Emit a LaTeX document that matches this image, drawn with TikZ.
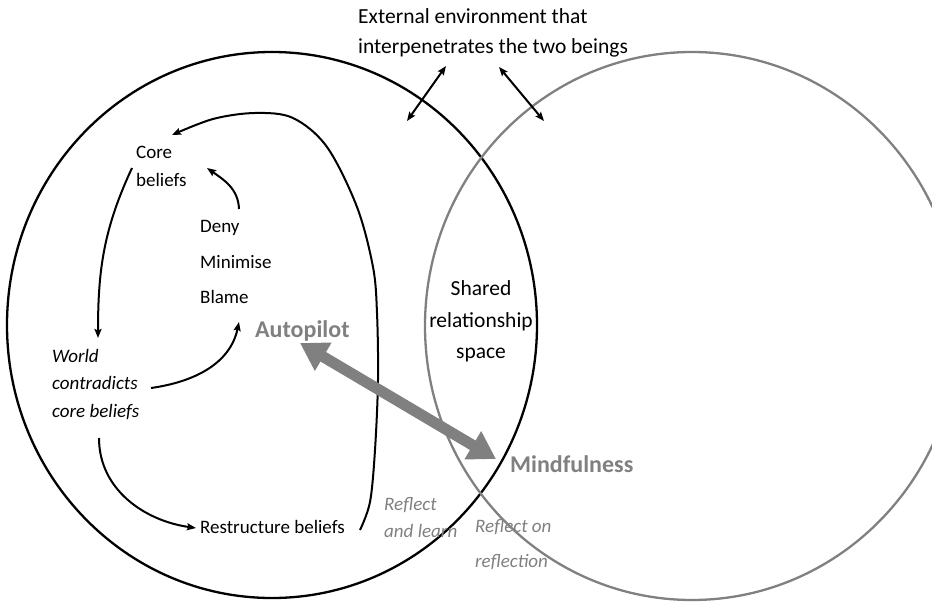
\documentclass[tikz,border=0pt]{standalone}
\usepackage{fontspec}
\setmainfont{Carlito}
\usetikzlibrary{arrows.meta}
\definecolor{mgray}{RGB}{128,128,128}
\begin{document}
\begin{tikzpicture}[x=1pt,y=-1pt,
  txt/.style={anchor=base west, inner sep=0pt, font=\fontsize{19}{22}\selectfont},
  itxt/.style={txt, font=\fontsize{19}{22}\selectfont\itshape},
  gitxt/.style={itxt, text=mgray},
  bigtxt/.style={anchor=base west, inner sep=0pt, font=\fontsize{24}{28}\selectfont\bfseries, text=mgray},
  toptxt/.style={anchor=base west, inner sep=0pt, font=\fontsize{21.5}{25}\selectfont},
  midtxt/.style={anchor=base, inner sep=0pt, font=\fontsize{21.5}{25}\selectfont},
  arr/.style={line width=2pt, -{Stealth[length=9pt,width=7pt,inset=1.5pt]}},
  darr/.style={line width=2pt, {Stealth[length=9pt,width=7pt,inset=1.5pt]}-{Stealth[length=9pt,width=7pt,inset=1.5pt]}},
  bigarr/.style={mgray, line width=11pt, {Triangle[length=27pt,width=31pt]}-{Triangle[length=27pt,width=31pt]}},
  ring/.style={line width=2.3pt}
]
\useasboundingbox (0,0) rectangle (932,602);

% circles
\draw[ring] (272,325) ellipse [x radius=265, y radius=273];
\draw[ring, mgray] (692,326) ellipse [x radius=267, y radius=274];

% texts
\node[toptxt] (ext1) at (358,24) {External environment that};
\node[toptxt] (ext2) at (358,54) {interpenetrates the two beings};
\node[txt] (core1) at (136,158) {Core};
\node[txt] (core2) at (136,186) {beliefs};
\node[txt] (deny) at (200,232) {Deny};
\node[txt] (mini) at (200,268) {Minimise};
\node[txt] (blame) at (200,303) {Blame};
\node[bigtxt] (auto) at (255,337) {Autopilot};
\node[itxt] (w1) at (52,362) {World};
\node[itxt] (w2) at (52,389) {contradicts};
\node[itxt] (w3) at (52,417) {core beliefs};
\node[txt] (restr) at (200,533) {Restructure beliefs};
\node[midtxt] (sh1) at (481,295) {Shared};
\node[midtxt] (sh2) at (481,327) {relationship};
\node[midtxt] (sh3) at (481,358) {space};
\node[bigtxt] (mind) at (510,472) {Mindfulness};
\node[gitxt] (rl1) at (384,510) {Reflect};
\node[gitxt] (rl2) at (384,537) {and learn};
\node[gitxt] (ro1) at (475,532) {Reflect on};
\node[gitxt] (ro2) at (475,567) {reflection};

% connector end points
\coordinate (cbS) at (132,168);
\coordinate (wN) at (98,338);
\coordinate (dN) at (239,209);
\coordinate (cbE) at (207,168);
\coordinate (wE) at (151,388);
\coordinate (aW) at (239,322);
\coordinate (wS) at (99,438);
\coordinate (rW) at (196,528);
\coordinate (rE) at (360,530);
\coordinate (cbT) at (172,135);
\coordinate (e1a) at (407,121);
\coordinate (e1b) at (446,66);
\coordinate (e2a) at (499,67);
\coordinate (e2b) at (544,121);
\coordinate (autoTip) at (300,343);
\coordinate (mindTip) at (496,459);

% arrows
\draw[arr] (cbS) to[out=-115,in=90] (wN);
\draw[arr] (dN) to[out=92,in=-35] (cbE);
\draw[arr] (wE) to[out=8,in=-102] (aW);
\draw[arr] (wS) to[out=-90,in=172] (rW);
\draw[arr] plot[smooth, tension=0.55] coordinates {(rE) (370,502) (375,450) (378,380) (377,313) (373,267) (357,207) (327,147) (293,118) (255,113) (213,119) (cbT)};
\draw[darr] (e1a) -- (e1b);
\draw[darr] (e2a) -- (e2b);
\draw[bigarr] (autoTip) -- (mindTip);
\end{tikzpicture}
\end{document}
